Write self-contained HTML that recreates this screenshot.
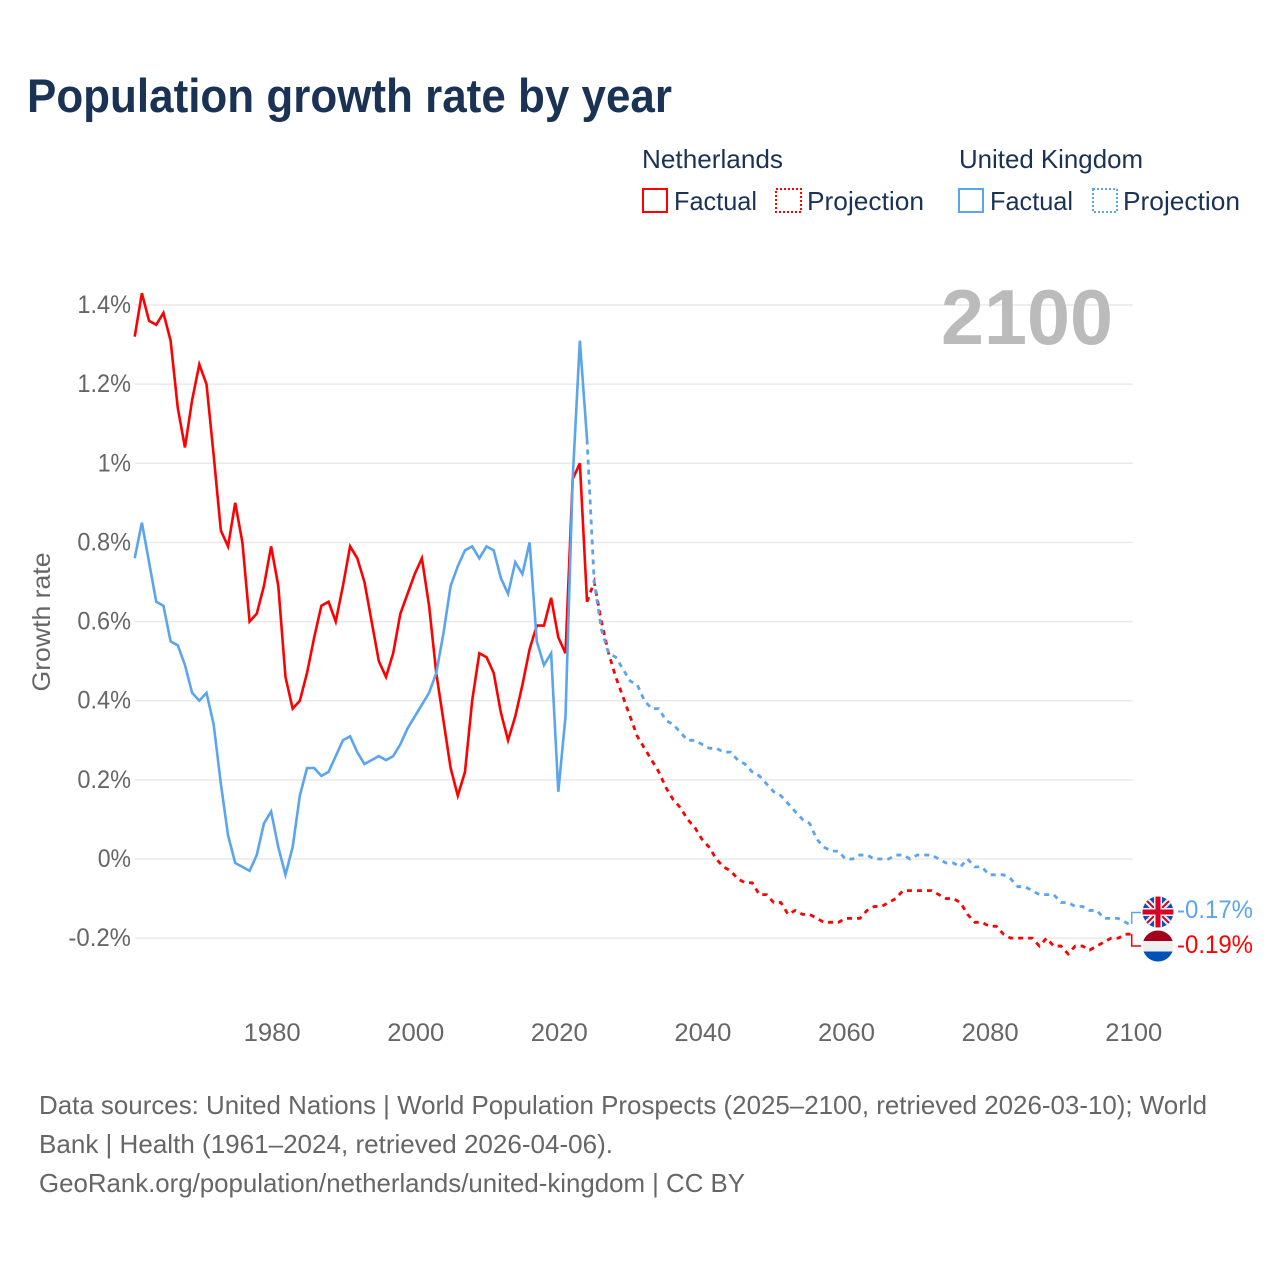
<!DOCTYPE html>
<html lang="en">
<head>
<meta charset="utf-8">
<title>Population growth rate by year</title>
<style>
  html, body { margin: 0; padding: 0; background: #fff; }
  svg { display: block; font-family: "Liberation Sans", sans-serif; }
</style>
</head>
<body>
<svg id="chart" xmlns="http://www.w3.org/2000/svg" width="1280" height="1280" viewBox="0 0 1280 1280">
  <rect width="1280" height="1280" fill="#ffffff"/>
  <text x="27" y="112" font-size="47" font-weight="700" fill="#1a3355" textLength="645" lengthAdjust="spacingAndGlyphs">Population growth rate by year</text>

  <g font-size="26" fill="#1a3355">
    <text x="642" y="168" textLength="141" lengthAdjust="spacingAndGlyphs">Netherlands</text>
    <text x="959" y="168" textLength="184" lengthAdjust="spacingAndGlyphs">United Kingdom</text>
    <rect x="643" y="189" width="24" height="23" fill="none" stroke="#ff0000" stroke-width="2"/>
    <text x="674" y="210" textLength="83" lengthAdjust="spacingAndGlyphs">Factual</text>
    <rect x="776" y="189" width="25" height="23" fill="none" stroke="#ff0000" stroke-width="2" stroke-dasharray="2 2"/>
    <text x="807" y="210" textLength="117" lengthAdjust="spacingAndGlyphs">Projection</text>
    <rect x="959" y="189" width="24" height="23" fill="none" stroke="#5ba4ee" stroke-width="2"/>
    <text x="990" y="210" textLength="83" lengthAdjust="spacingAndGlyphs">Factual</text>
    <rect x="1093" y="189" width="24" height="23" fill="none" stroke="#5ba4ee" stroke-width="2" stroke-dasharray="2 2"/>
    <text x="1123" y="210" textLength="117" lengthAdjust="spacingAndGlyphs">Projection</text>
  </g>

  <g id="grid"></g>
  <g id="yticks" font-size="25" fill="#666666" text-anchor="end"></g>
  <g id="xticks" font-size="25" fill="#666666" text-anchor="middle"></g>
  <text transform="translate(50 622) rotate(-90)" text-anchor="middle" font-size="25" fill="#666666" textLength="139" lengthAdjust="spacingAndGlyphs">Growth rate</text>
  <text x="941" y="344" font-size="78" font-weight="700" fill="#bbbbbb" textLength="172" lengthAdjust="spacingAndGlyphs">2100</text>

  <g id="series" fill="none" stroke-linejoin="miter"></g>

  <path d="M1131.7 924V912.5H1141" fill="none" stroke="#5ba4ee" stroke-width="1.5"/>
  <path d="M1131.7 934V946H1141" fill="none" stroke="#ff0000" stroke-width="1.5"/>

  <defs>
    <clipPath id="ukClip"><circle cx="1158" cy="912" r="15.5"/></clipPath>
    <clipPath id="nlClip"><circle cx="1158" cy="946" r="15.5"/></clipPath>
  </defs>
  <g clip-path="url(#ukClip)">
    <rect x="1142" y="896" width="32" height="32" fill="#0a52b5"/>
    <path d="M1142 896L1174 928M1174 896L1142 928" stroke="#f0f0f0" stroke-width="6"/>
    <path d="M1142 896L1174 928M1174 896L1142 928" stroke="#d80027" stroke-width="2"/>
    <path d="M1158 896V928M1142 912H1174" stroke="#f0f0f0" stroke-width="8"/>
    <path d="M1158 896V928M1142 912H1174" stroke="#d80027" stroke-width="5"/>
  </g>
  <g clip-path="url(#nlClip)">
    <rect x="1142" y="930" width="32" height="11" fill="#a2001d"/>
    <rect x="1142" y="941" width="32" height="10.5" fill="#f0f0f0"/>
    <rect x="1142" y="951.5" width="32" height="11" fill="#0052b4"/>
  </g>
  <text x="1177" y="918" font-size="25" fill="#5ba4ee" textLength="76" lengthAdjust="spacingAndGlyphs">-0.17%</text>
  <text x="1177" y="953" font-size="25" fill="#ff0000" textLength="76" lengthAdjust="spacingAndGlyphs">-0.19%</text>

  <g font-size="26" fill="#666666">
    <text x="39" y="1114" textLength="1168" lengthAdjust="spacingAndGlyphs">Data sources: United Nations | World Population Prospects (2025–2100, retrieved 2026-03-10); World</text>
    <text x="39" y="1153" textLength="574" lengthAdjust="spacingAndGlyphs">Bank | Health (1961–2024, retrieved 2026-04-06).</text>
    <text x="39" y="1192" textLength="706" lengthAdjust="spacingAndGlyphs">GeoRank.org/population/netherlands/united-kingdom | CC BY</text>
  </g>
</svg>
<script>
const factualStartYear = 1961;
const projectionStartYear = 2024;
const yTickValues = [-0.2, 0, 0.2, 0.4, 0.6, 0.8, 1, 1.2, 1.4];
const yTickLabels = ["-0.2%", "0%", "0.2%", "0.4%", "0.6%", "0.8%", "1%", "1.2%", "1.4%"];
const xTickYears = [1980, 2000, 2020, 2040, 2060, 2080, 2100];
const netherlandsFactual = [
  1.32,1.43,1.36,1.35,1.38,1.31,1.14,1.04,1.16,1.25,
  1.20,1.02,0.83,0.79,0.90,0.80,0.60,0.62,0.69,0.79,
  0.69,0.46,0.38,0.40,0.47,0.56,0.64,0.65,0.60,0.69,
  0.79,0.76,0.70,0.60,0.50,0.46,0.52,0.62,0.67,0.72,
  0.76,0.64,0.47,0.35,0.23,0.16,0.22,0.40,0.52,0.51,
  0.47,0.37,0.30,0.36,0.44,0.53,0.59,0.59,0.66,0.56,
  0.52,0.96,1.00,0.65
];
const ukFactual = [
  0.76,0.85,0.75,0.65,0.64,0.55,0.54,0.49,0.42,0.40,
  0.42,0.34,0.19,0.06,-0.01,-0.02,-0.03,0.01,0.09,0.12,
  0.03,-0.04,0.03,0.16,0.23,0.23,0.21,0.22,0.26,0.30,
  0.31,0.27,0.24,0.25,0.26,0.25,0.26,0.29,0.33,0.36,
  0.39,0.42,0.47,0.57,0.69,0.74,0.78,0.79,0.76,0.79,
  0.78,0.71,0.67,0.75,0.72,0.80,0.55,0.49,0.52,0.17,
  0.36,0.96,1.31,1.06
];
const netherlandsProjection = [
  0.65,0.70,0.60,0.52,0.46,0.41,0.36,0.31,0.28,0.25,
  0.22,0.18,0.15,0.13,0.10,0.08,0.05,0.03,0.00,-0.02,
  -0.03,-0.05,-0.06,-0.06,-0.09,-0.09,-0.11,-0.11,-0.14,-0.13,
  -0.14,-0.14,-0.15,-0.16,-0.16,-0.16,-0.15,-0.15,-0.15,-0.13,
  -0.12,-0.12,-0.11,-0.10,-0.08,-0.08,-0.08,-0.08,-0.08,-0.09,
  -0.10,-0.10,-0.11,-0.14,-0.16,-0.16,-0.17,-0.17,-0.19,-0.20,
  -0.20,-0.20,-0.20,-0.22,-0.20,-0.22,-0.22,-0.24,-0.22,-0.22,
  -0.23,-0.22,-0.21,-0.20,-0.20,-0.19,-0.19
];
const ukProjection = [
  1.06,0.70,0.58,0.52,0.51,0.48,0.45,0.44,0.40,0.38,
  0.38,0.35,0.34,0.32,0.30,0.30,0.29,0.28,0.28,0.27,
  0.27,0.25,0.24,0.22,0.21,0.19,0.17,0.16,0.14,0.12,
  0.10,0.09,0.05,0.03,0.02,0.02,0.00,0.00,0.01,0.01,
  0.00,0.00,0.00,0.01,0.01,0.00,0.01,0.01,0.01,0.00,
  -0.01,-0.01,-0.02,0.00,-0.02,-0.02,-0.04,-0.04,-0.04,-0.05,
  -0.07,-0.07,-0.08,-0.09,-0.09,-0.09,-0.11,-0.11,-0.12,-0.12,
  -0.13,-0.13,-0.15,-0.15,-0.15,-0.16,-0.17
];

const SVG_NS = "http://www.w3.org/2000/svg";
function xScale(year) { return 134.7 + 7.18 * (year - 1961); }
function yScale(value) { return 859 - 395.7 * value; }
function labelWidth(text) {
  let w = 0;
  for (const ch of text) {
    if (ch === ".") w += 6;
    else if (ch === "%") w += 19;
    else if (ch === "-") w += 9;
    else w += 14.3;
  }
  return w;
}
function linePath(startYear, values) {
  return values.map(function (v, i) {
    return (i ? "L" : "M") + xScale(startYear + i).toFixed(2) + " " + yScale(v).toFixed(2);
  }).join("");
}

const gridGroup = document.getElementById("grid");
const yTickGroup = document.getElementById("yticks");
yTickValues.forEach(function (v, i) {
  const gridLine = document.createElementNS(SVG_NS, "line");
  
  
  gridLine.setAttribute("x1", xScale(1961));
  gridLine.setAttribute("x2", xScale(2100));
  gridLine.setAttribute("y1", yScale(v));
  gridLine.setAttribute("y2", yScale(v));
  gridLine.setAttribute("stroke", "#e9e9e9");
  gridLine.setAttribute("stroke-width", "1.5");
  gridGroup.appendChild(gridLine);

  const label = document.createElementNS(SVG_NS, "text");
  
  
  label.setAttribute("x", 131);
  label.setAttribute("y", yScale(v) + 8);
  label.setAttribute("textLength", labelWidth(yTickLabels[i]));
  label.setAttribute("lengthAdjust", "spacingAndGlyphs");
  label.textContent = yTickLabels[i];
  yTickGroup.appendChild(label);
});

const xTickGroup = document.getElementById("xticks");
xTickYears.forEach(function (year) {
  const label = document.createElementNS(SVG_NS, "text");
  
  
  label.setAttribute("x", xScale(year) + 1);
  label.setAttribute("y", 1041);
  label.setAttribute("textLength", 57);
  label.setAttribute("lengthAdjust", "spacingAndGlyphs");
  label.textContent = String(year);
  xTickGroup.appendChild(label);
});

const seriesGroup = document.getElementById("series");

const nlProjectionLine = document.createElementNS(SVG_NS, "path");


nlProjectionLine.setAttribute("d", linePath(projectionStartYear, netherlandsProjection));
nlProjectionLine.setAttribute("stroke", "#ff0000");
nlProjectionLine.setAttribute("stroke-width", "2.8");
nlProjectionLine.setAttribute("stroke-dasharray", "5 5");
seriesGroup.appendChild(nlProjectionLine);

const nlFactualLine = document.createElementNS(SVG_NS, "path");


nlFactualLine.setAttribute("d", linePath(factualStartYear, netherlandsFactual));
nlFactualLine.setAttribute("stroke", "#ff0000");
nlFactualLine.setAttribute("stroke-width", "2.6");
seriesGroup.appendChild(nlFactualLine);

const ukProjectionLine = document.createElementNS(SVG_NS, "path");


ukProjectionLine.setAttribute("d", linePath(projectionStartYear, ukProjection));
ukProjectionLine.setAttribute("stroke", "#5ba4ee");
ukProjectionLine.setAttribute("stroke-width", "2.8");
ukProjectionLine.setAttribute("stroke-dasharray", "5 5");
seriesGroup.appendChild(ukProjectionLine);

const ukFactualLine = document.createElementNS(SVG_NS, "path");


ukFactualLine.setAttribute("d", linePath(factualStartYear, ukFactual));
ukFactualLine.setAttribute("stroke", "#5ba4ee");
ukFactualLine.setAttribute("stroke-width", "2.6");
seriesGroup.appendChild(ukFactualLine);
</script>
</body>
</html>
